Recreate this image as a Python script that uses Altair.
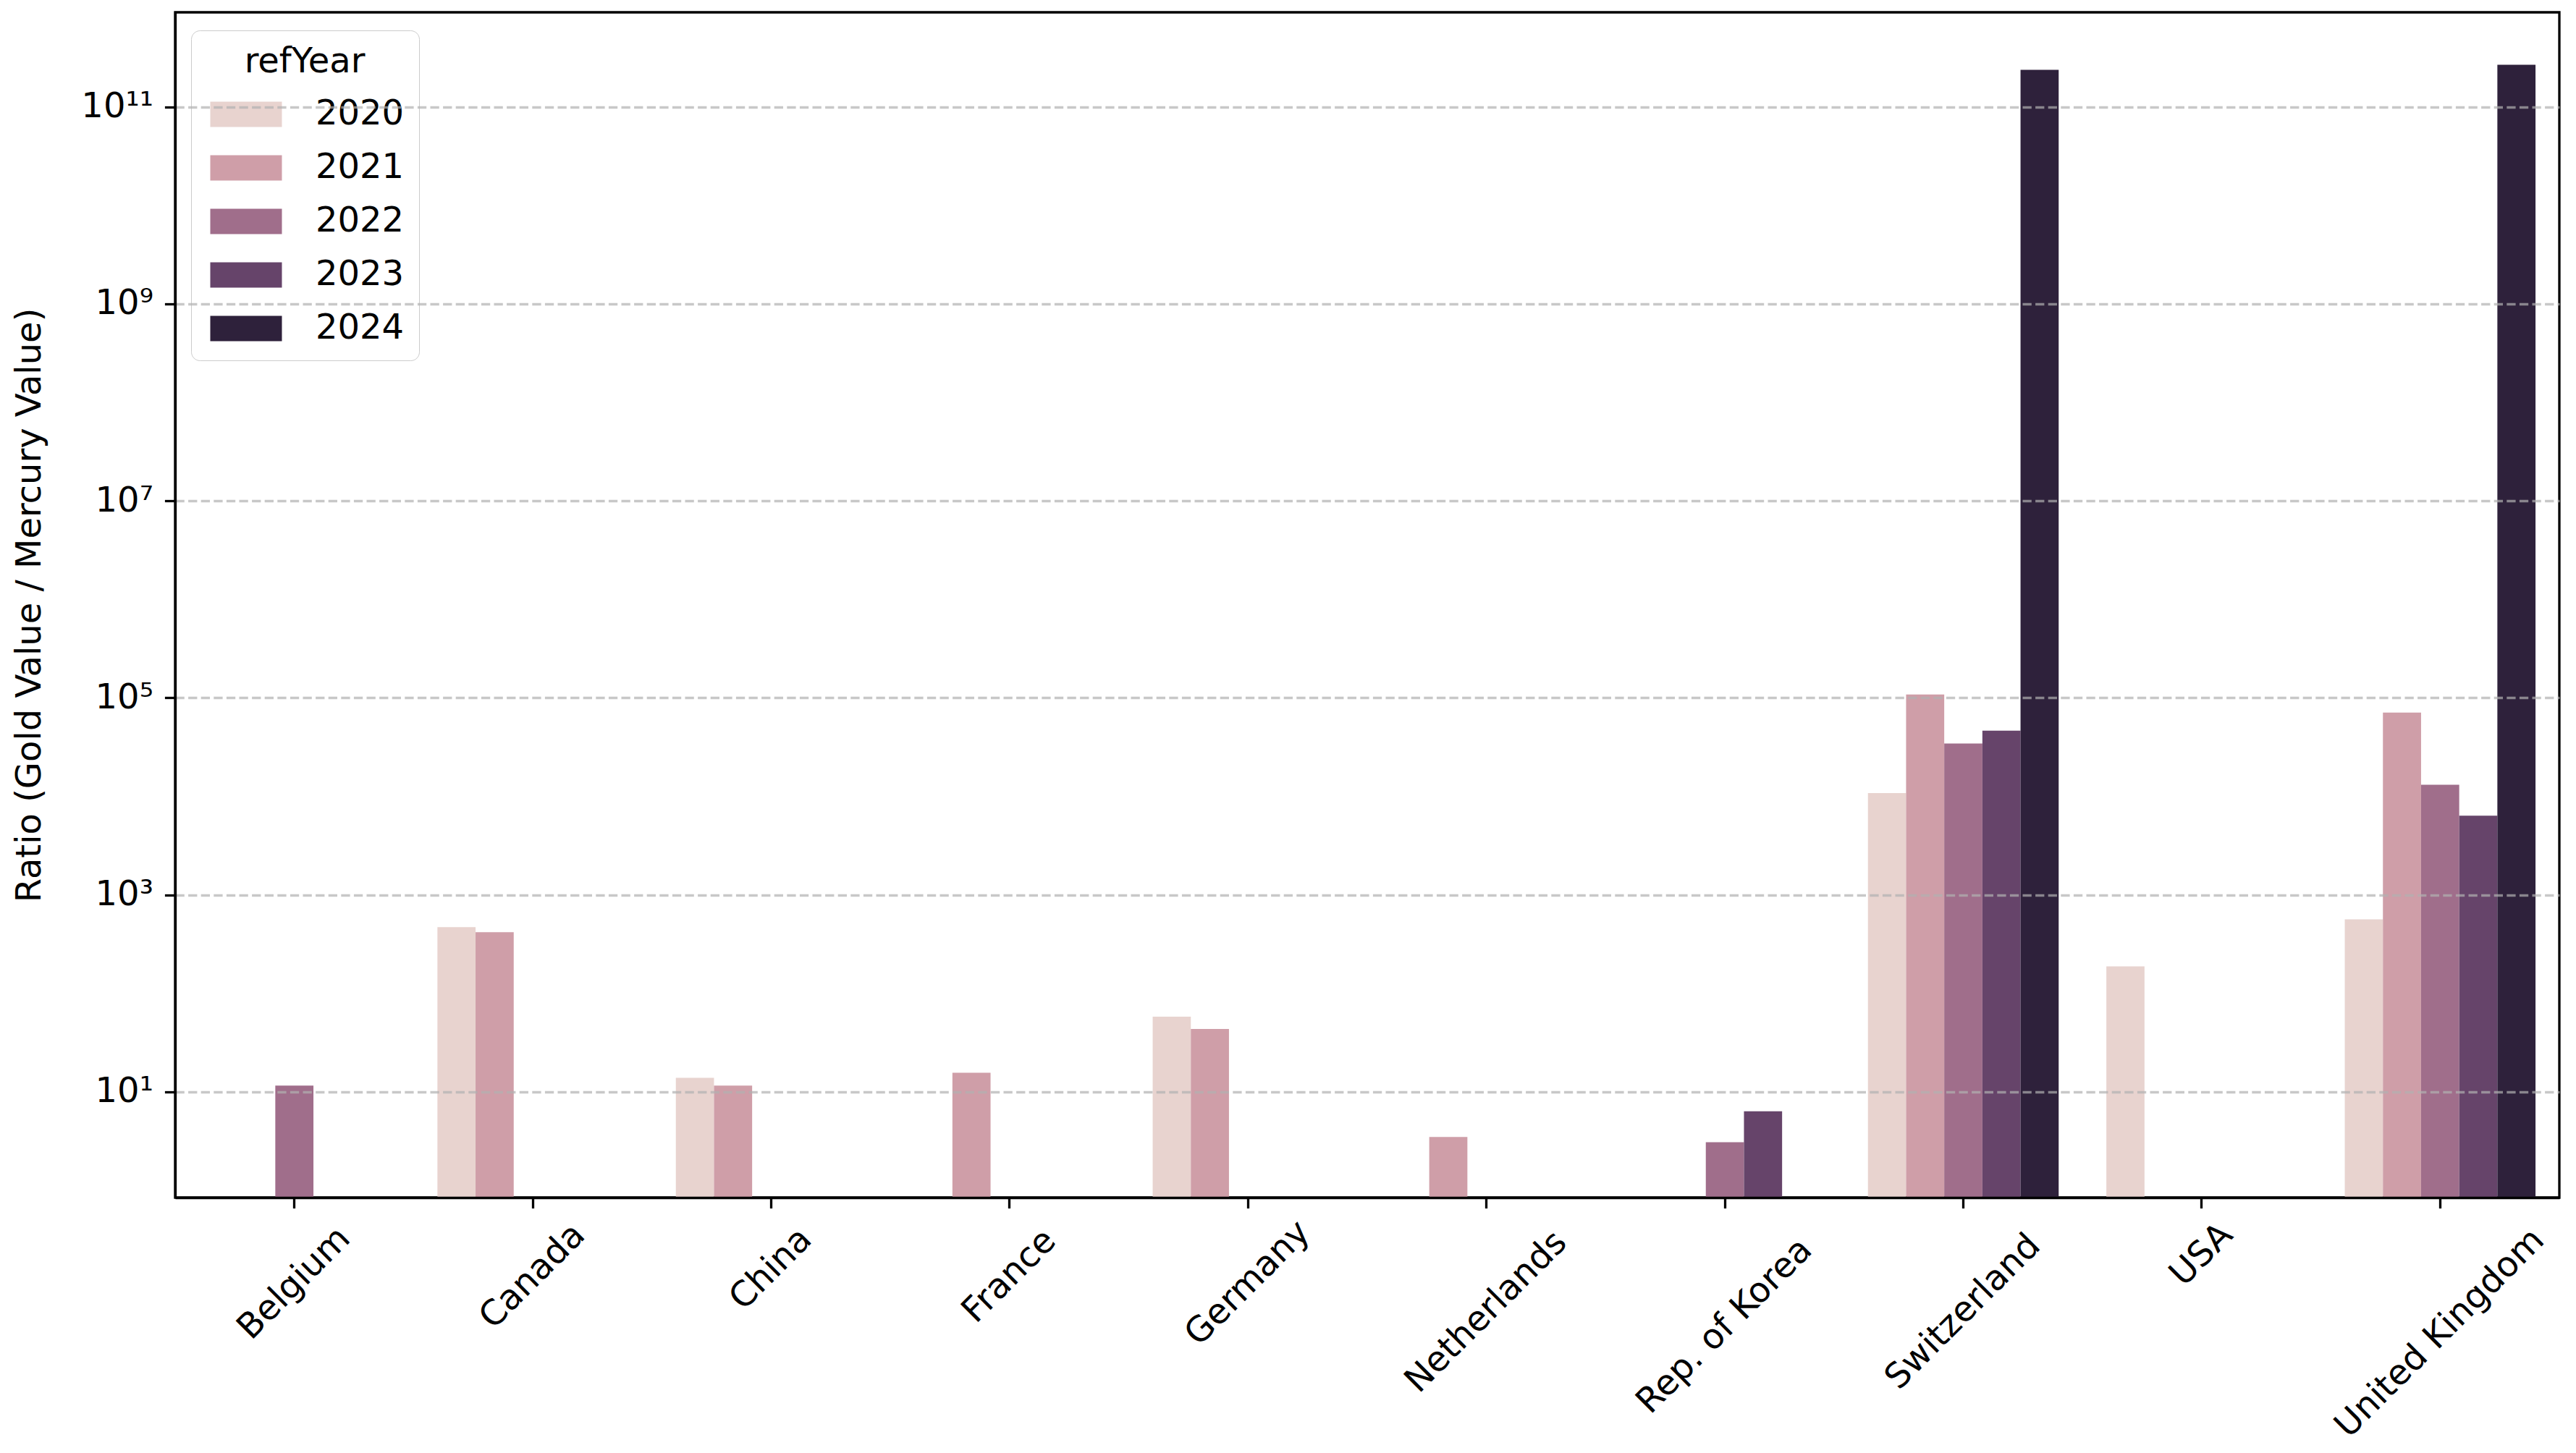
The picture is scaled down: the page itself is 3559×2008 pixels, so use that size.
import math
import altair as alt

# ---------------- data ----------------
countries = ["Belgium", "Canada", "China", "France", "Germany", "Netherlands",
             "Rep. of Korea", "Switzerland", "USA", "United Kingdom"]
years = [2020, 2021, 2022, 2023, 2024]

ratio_2020 = [None, 471, 13.9, None, 58, None, None, 10800, 188, 564]
ratio_2021 = [None, 417, 11.6, 15.6, 43.4, 3.49, None, 108000, None, 70700]
ratio_2022 = [11.6, None, None, None, None, None, 3.08, 34400, None, 13100]
ratio_2023 = [None, None, None, None, None, None, 6.34, 46500, None, 6370]
ratio_2024 = [None, None, None, None, None, None, None, 2.37e11, None, 2.67e11]

year_colors = ["#e8d3cf", "#cf9ea8", "#a06e8b", "#66446a", "#2e213b"]
ytick_values = [1e1, 1e3, 1e5, 1e7, 1e9, 1e11]
ytick_labels = ["10\u00b9", "10\u00b3", "10\u2075", "10\u2077", "10\u2079", "10\u00b9\u00b9"]

series = [ratio_2020, ratio_2021, ratio_2022, ratio_2023, ratio_2024]
rows = []
for yr, vals in zip(years, series):
    for c, v in zip(countries, vals):
        if v is not None:
            rows.append({"country": c, "year": str(yr), "ratio": float(v)})
bar_data = alt.Data(values=rows)
label_data = alt.Data(values=[{"country": c} for c in countries])
year_names = [str(y) for y in years]

# ---------------- layout ----------------
W, H = 3294, 1638
FS = 48
FONT = "DejaVu Sans"
LW = 3.3
Y_MIN, Y_MAX = 0.845, 9.1e11

label_expr = ""
for v, lab in zip(ytick_values, ytick_labels):
    k = round(math.log10(v))
    label_expr += f"abs(log(datum.value)/LN10 - {k}) < 0.01 ? '{lab}' : "
label_expr += "''"

x_scale = alt.Scale(domain=countries, paddingInner=0.2, paddingOuter=0.1)

bars = alt.Chart(bar_data).mark_bar().encode(
    x=alt.X("country:N", scale=x_scale,
            axis=alt.Axis(labels=False, title=None, ticks=True, tickSize=14.6,
                          tickWidth=LW, tickColor="black", domainColor="black",
                          domainWidth=LW, grid=False, zindex=1)),
    xOffset=alt.XOffset("year:N", scale=alt.Scale(domain=year_names, paddingInner=0, paddingOuter=0)),
    y=alt.Y("ratio:Q", scale=alt.Scale(type="log", domain=[Y_MIN, Y_MAX]),
            axis=alt.Axis(values=ytick_values, labelExpr=label_expr, grid=True,
                          gridColor="#b0b0b0", gridOpacity=0.7, gridWidth=LW,
                          gridDash=[12.3, 5.3], tickSize=14.6, tickWidth=LW,
                          tickColor="black", domainColor="black", domainWidth=LW,
                          labelFontSize=FS, labelFont=FONT, labelColor="black",
                          labelPadding=16, labelBaseline="middle",
                          title="Ratio (Gold Value / Mercury Value)",
                          titleFontSize=FS, titleFont=FONT, titleFontWeight="normal",
                          titleColor="black", titleAngle=270, titleX=-201, titleY=H / 2,
                          titleAlign="center", titleBaseline="middle", zindex=1)),
    y2=alt.datum(Y_MIN),
    color=alt.Color("year:N", scale=alt.Scale(domain=year_names, range=year_colors),
                    legend=alt.Legend(title="refYear", orient="none", legendX=22, legendY=25,
                                      symbolType="M-1,-1H4.657V1H-1Z", symbolSize=1225,
                                      symbolStrokeWidth=0, symbolOpacity=1,
                                      labelOffset=104, rowPadding=26, titlePadding=24,
                                      padding=20, fillColor="rgba(255,255,255,0.8)",
                                      strokeColor="#cccccc", cornerRadius=12,
                                      labelFontSize=FS, titleFontSize=FS,
                                      labelFont=FONT, titleFont=FONT,
                                      titleFontWeight="normal", titleAnchor="middle",
                                      labelColor="black", titleColor="black")),
)

# tick labels: rotated 45 deg, bounding box centred under each tick (matplotlib style)
half_diag = f"0.354*(length(datum.country)*0.58*{FS} + {1.17 * FS})"
text = alt.Chart(label_data).mark_text(
    angle=315, align="center", baseline="middle", fontSize=FS, font=FONT, color="black",
    dx=alt.expr(f"-0.7071*({half_diag})"),
    dy=alt.expr(f"0.7071*({half_diag})"),
).encode(
    x=alt.X("country:N", scale=x_scale),
    y=alt.value(H + 30),
    text="country:N",
)

chart = alt.layer(bars, text).properties(
    width=W, height=H,
    autosize=alt.AutoSizeParams(type="none"),
    padding={"left": 234, "top": 9, "right": 15, "bottom": 340},
    background="white",
).configure_view(stroke="black", strokeWidth=LW)

chart.save("out.html", embed_options={"renderer": "svg", "actions": False})
